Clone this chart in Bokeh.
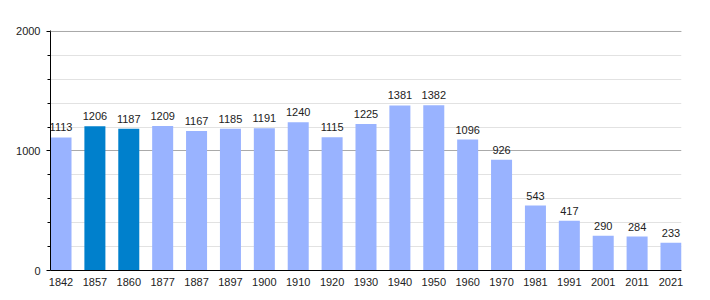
from bokeh.plotting import figure
from bokeh.models import Range1d, FixedTicker, ColumnDataSource, Span
from bokeh.core.properties import value
from bokeh.embed import file_html
from bokeh.resources import INLINE

years = ["1842", "1857", "1860", "1877", "1887", "1897", "1900", "1910", "1920", "1930",
         "1940", "1950", "1960", "1970", "1981", "1991", "2001", "2011", "2021"]
population = [1113, 1206, 1187, 1209, 1167, 1185, 1191, 1240, 1115, 1225,
              1381, 1382, 1096, 926, 543, 417, 290, 284, 233]
highlighted = ["1857", "1860"]
y_ticks = [0, 1000, 2000]
y_minor = [200, 400, 600, 800, 1200, 1400, 1600, 1800]

LIGHT = "#99b3ff"
DARK = "#0080cc"

xs = list(range(len(years)))
colors = [DARK if y in highlighted else LIGHT for y in years]
src = ColumnDataSource(dict(x=xs, pop=population, color=colors,
                            label=[str(v) for v in population]))

bw = 0.62
p = figure(width=710, height=300, output_backend="svg", toolbar_location=None,
           x_range=Range1d(-bw / 2, len(years) - 1 + bw / 2), y_range=Range1d(0, 2008),
           min_border_left=50, min_border_right=29, min_border_top=30, min_border_bottom=30)
p.outline_line_color = None
p.background_fill_color = "white"
p.border_fill_color = "white"

p.vbar(x="x", top="pop", width=bw, color="color", line_color=None, source=src)
p.text(x="x", y="pop", text="label", source=src, text_align="center",
       text_baseline="alphabetic", y_offset=-10, text_font=value("Liberation Sans"),
       text_font_size="11px", text_color="#222222")

p.xgrid.grid_line_color = None
p.ygrid.ticker = FixedTicker(ticks=y_ticks, minor_ticks=y_minor)
p.ygrid.grid_line_color = "#aaaaaa"
p.ygrid.minor_grid_line_color = "#e2e2e2"
p.add_layout(Span(location=y_ticks[-1], dimension="width", line_color="#aaaaaa", line_width=1))

ya = p.yaxis[0]
ya.ticker = FixedTicker(ticks=y_ticks, minor_ticks=y_minor)
ya.axis_line_color = "black"
ya.major_tick_line_color = "black"
ya.minor_tick_line_color = "black"
ya.major_tick_out = 4
ya.major_tick_in = 0
ya.minor_tick_out = 3
ya.minor_tick_in = 0
ya.major_label_standoff = 6
ya.major_label_text_font = "Liberation Sans"
ya.major_label_text_font_size = "11px"
ya.major_label_text_color = "#222222"

xa = p.xaxis[0]
xa.ticker = FixedTicker(ticks=xs)
xa.major_label_overrides = {i: y for i, y in enumerate(years)}
xa.axis_line_color = "black"
xa.major_tick_line_color = None
xa.minor_tick_line_color = None
xa.major_tick_out = 0
xa.major_tick_in = 0
xa.major_label_standoff = 7
xa.major_label_text_font = "Liberation Sans"
xa.major_label_text_font_size = "11px"
xa.major_label_text_color = "#222222"

open("out.html", "w").write(file_html(p, INLINE))
